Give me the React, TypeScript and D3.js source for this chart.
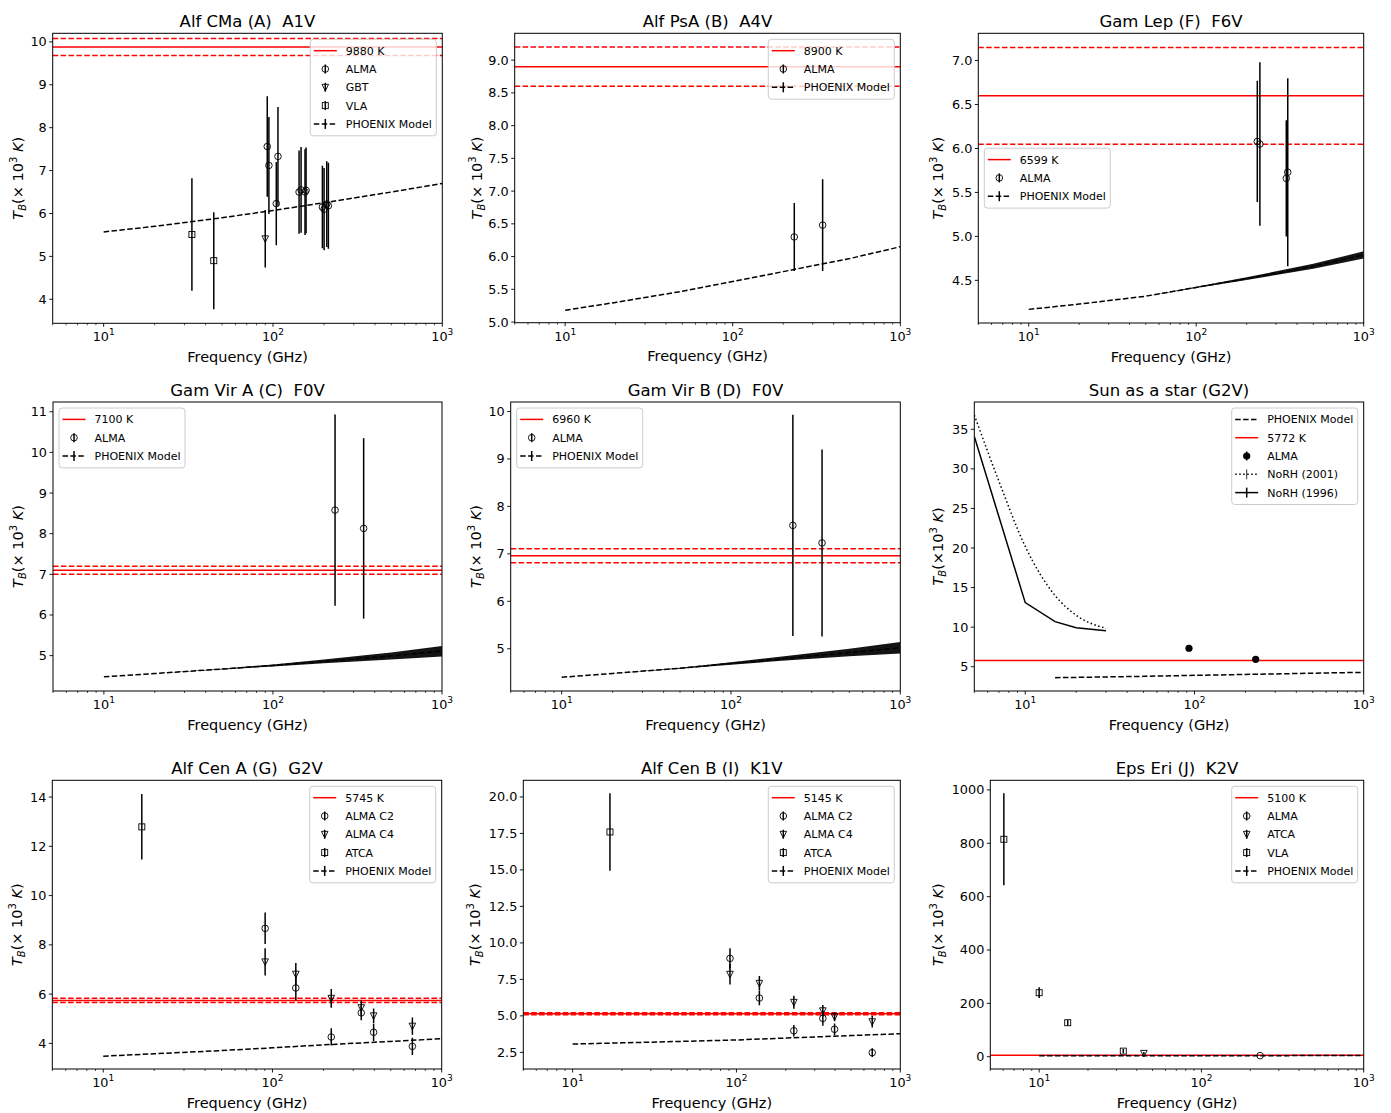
import React from "react";
import * as d3 from "d3";

const FONT = "'DejaVu Sans', sans-serif";

// ---------- shared data ----------
const FREQ_DOMAIN = [5, 1000];
const MODEL_FREQ = [10, 20, 50, 100, 200, 500, 1000];

// ---------- Alf CMa ----------
const alfCMaAlmaFreq = [92.5, 94.6, 104.6, 107, 142.6, 146.5, 154.6, 156.8, 195.8, 200.4, 207.8, 212.4];
const alfCMaAlmaTb = [7.56, 7.12, 6.23, 7.33, 6.5, 6.55, 6.5, 6.54, 6.15, 6.1, 6.22, 6.18];
const alfCMaAlmaErr = [1.17, 1.13, 0.97, 1.15, 0.97, 1.0, 1.0, 1.0, 0.96, 0.96, 1.0, 1.0];
const alfCMaGbtFreq = [90];
const alfCMaGbtTb = [5.41];
const alfCMaGbtErr = [0.67];
const alfCMaVlaFreq = [33.2, 44.7];
const alfCMaVlaTb = [5.51, 4.9];
const alfCMaVlaErr = [1.31, 1.13];
const alfCMaModelTb = [5.57, 5.7, 5.9, 6.07, 6.25, 6.5, 6.7];
const alfCMaYTicks = [4, 5, 6, 7, 8, 9, 10];

// ---------- Alf PsA ----------
const alfPsAAlmaFreq = [233, 344];
const alfPsAAlmaTb = [6.3, 6.48];
const alfPsAAlmaErr = [0.52, 0.7];
const alfPsAModelTb = [5.18, 5.3, 5.47, 5.62, 5.77, 5.97, 6.15];
const alfPsAYTicks = [5.0, 5.5, 6.0, 6.5, 7.0, 7.5, 8.0, 8.5, 9.0];

// ---------- Gam Lep ----------
const gamLepAlmaFreq = [231.6, 240, 345, 352];
const gamLepAlmaTb = [6.08, 6.05, 5.66, 5.73];
const gamLepAlmaErr = [0.69, 0.93, 0.66, 1.07];
const gamLepModelTb = [4.17, 4.23, 4.32, 4.42, 4.52, 4.66, 4.79];
const gamLepModelErr = [0, 0, 0, 0.008, 0.015, 0.028, 0.04];
const gamLepYTicks = [4.5, 5.0, 5.5, 6.0, 6.5, 7.0];

// ---------- Gam Vir A ----------
const gamVirAAlmaFreq = [233, 344];
const gamVirAAlmaTb = [8.58, 8.13];
const gamVirAAlmaErr = [2.35, 2.22];
const gamVirAModelTb = [4.48, 4.56, 4.67, 4.76, 4.86, 4.99, 5.11];
const gamVirAModelErr = [0, 0, 0.01, 0.025, 0.045, 0.085, 0.13];
const gamVirAYTicks = [5, 6, 7, 8, 9, 10, 11];

// ---------- Gam Vir B ----------
const gamVirBAlmaFreq = [232, 345];
const gamVirBAlmaTb = [7.6, 7.23];
const gamVirBAlmaErr = [2.33, 1.97];
const gamVirBModelTb = [4.4, 4.48, 4.59, 4.69, 4.79, 4.92, 5.02];
const gamVirBModelErr = [0, 0, 0.01, 0.025, 0.045, 0.08, 0.12];
const gamVirBYTicks = [5, 6, 7, 8, 9, 10];

// ---------- Sun ----------
const sunAlmaFreq = [92.8, 230];
const sunAlmaTb = [7.33, 5.93];
const sunAlmaErr = [0.3, 0.25];
const sunModelFreq = [15, 50, 100, 200, 500, 1000];
const sunModelTb = [3.61, 3.78, 3.91, 4.02, 4.18, 4.29];
const sunNoRH2001Freq = [5, 7, 10, 15, 20, 30];
const sunNoRH2001Tb = [36.8, 28.4, 20.2, 14.0, 11.5, 9.85];
const sunNoRH1996Freq = [5, 10, 15, 20, 30];
const sunNoRH1996Tb = [34.1, 13.1, 10.7, 9.93, 9.55];
const sunYTicks = [5, 10, 15, 20, 25, 30, 35];

// ---------- Alf Cen A ----------
const alfCenAC2Freq = [90.5, 137.4, 222.5, 334.7, 396, 671];
const alfCenAC2Tb = [8.67, 6.25, 4.26, 5.24, 4.45, 3.88];
const alfCenAC2Err = [0.64, 0.5, 0.35, 0.3, 0.35, 0.35];
const alfCenAC4Freq = [90.5, 137.4, 222.5, 334.7, 396, 671];
const alfCenAC4Tb = [7.31, 6.81, 5.83, 5.45, 5.12, 4.7];
const alfCenAC4Err = [0.55, 0.45, 0.38, 0.3, 0.3, 0.35];
const alfCenAAtcaFreq = [16.9];
const alfCenAAtcaTb = [12.79];
const alfCenAAtcaErr = [1.33];
const alfCenAModelTb = [3.48, 3.58, 3.71, 3.82, 3.94, 4.08, 4.19];
const alfCenAYTicks = [4, 6, 8, 10, 12, 14];

// ---------- Alf Cen B ----------
const alfCenBC2Freq = [91.3, 138, 224, 336.7, 397, 674];
const alfCenBC2Tb = [8.94, 6.22, 3.98, 4.83, 4.08, 2.48];
const alfCenBC2Err = [0.7, 0.5, 0.4, 0.5, 0.4, 0.3];
const alfCenBC4Freq = [91.3, 138, 224, 336.7, 397, 674];
const alfCenBC4Tb = [7.85, 7.23, 5.93, 5.35, 4.94, 4.6];
const alfCenBC4Err = [0.7, 0.5, 0.45, 0.4, 0.3, 0.4];
const alfCenBAtcaFreq = [16.9];
const alfCenBAtcaTb = [17.6];
const alfCenBAtcaErr = [2.65];
const alfCenBModelTb = [3.07, 3.15, 3.26, 3.35, 3.48, 3.65, 3.78];
const alfCenBYTicks = [2.5, 5.0, 7.5, 10.0, 12.5, 15.0, 17.5, 20.0];

// ---------- Eps Eri ----------
const epsEriAlmaFreq = [230];
const epsEriAlmaTb = [4];
const epsEriAlmaErr = [1];
const epsEriAtcaFreq = [44.2];
const epsEriAtcaTb = [12.7];
const epsEriAtcaErr = [5];
const epsEriVlaFreq = [6.06, 10, 15, 33];
const epsEriVlaTb = [815, 240, 127.5, 21];
const epsEriVlaErr = [172, 20, 10, 8];
const epsEriModelTb = [3.5, 3.6, 3.75, 3.85, 4.0, 4.2, 4.35];
const epsEriYTicks = [0, 200, 400, 600, 800, 1000];

// ---------- helpers ----------
type Kind = "circle" | "tri" | "square" | "filled";
type Pt = { f: number; v: number; e: number };
const zip = (f: number[], v: number[], e?: number[]): Pt[] =>
  f.map((x, i) => ({ f: x, v: v[i], e: e ? e[i] : 0 }));

type Series = { kind: Kind; pts: Pt[] };
type LegendEntry =
  | { type: "ref"; label: string }
  | { type: "err"; kind: Kind; label: string }
  | { type: "model"; label: string }
  | { type: "plainDash"; label: string }
  | { type: "dotBar"; label: string }
  | { type: "solidBar"; label: string };

type PanelCfg = {
  id: string;
  title: string;
  box: [number, number, number, number]; // x0,x1,y0,y1
  yDomain: [number, number];
  yTicks: number[];
  yFmt: string;
  labelX: number;
  compactLabel?: boolean;
  ref: { v: number; band: number };
  model: { pts: Pt[]; band: boolean };
  series: Series[];
  lines?: { pts: Pt[]; dash: string }[];
  legend: { pos: "ur" | "ul" | "cl"; entries: LegendEntry[] };
};

const modelEntry: LegendEntry = { type: "model", label: "PHOENIX Model" };

const panels: PanelCfg[] = [
  {
    id: "p1",
    title: "Alf CMa (A)  A1V",
    box: [52.7, 442.3, 33.3, 323.3],
    yDomain: [3.44, 10.2],
    yTicks: alfCMaYTicks,
    yFmt: "d",
    labelX: 18,
    ref: { v: 9.88, band: 0.2 },
    model: { pts: zip(MODEL_FREQ, alfCMaModelTb), band: false },
    series: [
      { kind: "circle", pts: zip(alfCMaAlmaFreq, alfCMaAlmaTb, alfCMaAlmaErr) },
      { kind: "tri", pts: zip(alfCMaGbtFreq, alfCMaGbtTb, alfCMaGbtErr) },
      { kind: "square", pts: zip(alfCMaVlaFreq, alfCMaVlaTb, alfCMaVlaErr) },
    ],
    legend: {
      pos: "ur",
      entries: [
        { type: "ref", label: "9880 K" },
        { type: "err", kind: "circle", label: "ALMA" },
        { type: "err", kind: "tri", label: "GBT" },
        { type: "err", kind: "square", label: "VLA" },
        modelEntry,
      ],
    },
  },
  {
    id: "p2",
    title: "Alf PsA (B)  A4V",
    box: [514.7, 900.3, 33.3, 322.7],
    yDomain: [4.99, 9.41],
    yTicks: alfPsAYTicks,
    yFmt: ".1f",
    labelX: 476.7,
    ref: { v: 8.9, band: 0.3 },
    model: { pts: zip(MODEL_FREQ, alfPsAModelTb), band: false },
    series: [{ kind: "circle", pts: zip(alfPsAAlmaFreq, alfPsAAlmaTb, alfPsAAlmaErr) }],
    legend: {
      pos: "ur",
      entries: [{ type: "ref", label: "8900 K" }, { type: "err", kind: "circle", label: "ALMA" }, modelEntry],
    },
  },
  {
    id: "p3",
    title: "Gam Lep (F)  F6V",
    box: [978.3, 1363.7, 33.3, 323],
    yDomain: [4.015, 7.31],
    yTicks: gamLepYTicks,
    yFmt: ".1f",
    labelX: 938.3,
    ref: { v: 6.599, band: 0.55 },
    model: { pts: zip(MODEL_FREQ, gamLepModelTb, gamLepModelErr), band: true },
    series: [{ kind: "circle", pts: zip(gamLepAlmaFreq, gamLepAlmaTb, gamLepAlmaErr) }],
    legend: {
      pos: "cl",
      entries: [{ type: "ref", label: "6599 K" }, { type: "err", kind: "circle", label: "ALMA" }, modelEntry],
    },
  },
  {
    id: "p4",
    title: "Gam Vir A (C)  F0V",
    box: [53, 442, 402, 691],
    yDomain: [4.13, 11.24],
    yTicks: gamVirAYTicks,
    yFmt: "d",
    labelX: 18.3,
    ref: { v: 7.1, band: 0.1 },
    model: { pts: zip(MODEL_FREQ, gamVirAModelTb, gamVirAModelErr), band: true },
    series: [{ kind: "circle", pts: zip(gamVirAAlmaFreq, gamVirAAlmaTb, gamVirAAlmaErr) }],
    legend: {
      pos: "ul",
      entries: [{ type: "ref", label: "7100 K" }, { type: "err", kind: "circle", label: "ALMA" }, modelEntry],
    },
  },
  {
    id: "p5",
    title: "Gam Vir B (D)  F0V",
    box: [510.7, 900.3, 402, 691],
    yDomain: [4.11, 10.2],
    yTicks: gamVirBYTicks,
    yFmt: "d",
    labelX: 476,
    ref: { v: 6.96, band: 0.15 },
    model: { pts: zip(MODEL_FREQ, gamVirBModelTb, gamVirBModelErr), band: true },
    series: [{ kind: "circle", pts: zip(gamVirBAlmaFreq, gamVirBAlmaTb, gamVirBAlmaErr) }],
    legend: {
      pos: "ul",
      entries: [{ type: "ref", label: "6960 K" }, { type: "err", kind: "circle", label: "ALMA" }, modelEntry],
    },
  },
  {
    id: "p6",
    title: "Sun as a star (G2V)",
    box: [974.3, 1363.7, 402, 691],
    yDomain: [1.93, 38.45],
    yTicks: sunYTicks,
    yFmt: "d",
    labelX: 938,
    compactLabel: true,
    ref: { v: 5.772, band: 0 },
    model: { pts: zip(sunModelFreq, sunModelTb), band: false },
    series: [{ kind: "filled", pts: zip(sunAlmaFreq, sunAlmaTb, sunAlmaErr) }],
    lines: [
      { pts: zip(sunNoRH2001Freq, sunNoRH2001Tb), dash: "1.5,2.5" },
      { pts: zip(sunNoRH1996Freq, sunNoRH1996Tb), dash: "" },
    ],
    legend: {
      pos: "ur",
      entries: [
        { type: "plainDash", label: "PHOENIX Model" },
        { type: "ref", label: "5772 K" },
        { type: "err", kind: "filled", label: "ALMA" },
        { type: "dotBar", label: "NoRH (2001)" },
        { type: "solidBar", label: "NoRH (1996)" },
      ],
    },
  },
  {
    id: "p7",
    title: "Alf Cen A (G)  G2V",
    box: [52.3, 441.7, 780.3, 1069],
    yDomain: [2.96, 14.68],
    yTicks: alfCenAYTicks,
    yFmt: "d",
    labelX: 16.7,
    ref: { v: 5.745, band: 0.09 },
    model: { pts: zip(MODEL_FREQ, alfCenAModelTb), band: false },
    series: [
      { kind: "circle", pts: zip(alfCenAC2Freq, alfCenAC2Tb, alfCenAC2Err) },
      { kind: "tri", pts: zip(alfCenAC4Freq, alfCenAC4Tb, alfCenAC4Err) },
      { kind: "square", pts: zip(alfCenAAtcaFreq, alfCenAAtcaTb, alfCenAAtcaErr) },
    ],
    legend: {
      pos: "ur",
      entries: [
        { type: "ref", label: "5745 K" },
        { type: "err", kind: "circle", label: "ALMA C2" },
        { type: "err", kind: "tri", label: "ALMA C4" },
        { type: "err", kind: "square", label: "ATCA" },
        modelEntry,
      ],
    },
  },
  {
    id: "p8",
    title: "Alf Cen B (I)  K1V",
    box: [523.3, 900.3, 780.3, 1069],
    yDomain: [1.36, 21.14],
    yTicks: alfCenBYTicks,
    yFmt: ".1f",
    labelX: 475,
    ref: { v: 5.145, band: 0.07 },
    model: { pts: zip(MODEL_FREQ, alfCenBModelTb), band: false },
    series: [
      { kind: "circle", pts: zip(alfCenBC2Freq, alfCenBC2Tb, alfCenBC2Err) },
      { kind: "tri", pts: zip(alfCenBC4Freq, alfCenBC4Tb, alfCenBC4Err) },
      { kind: "square", pts: zip(alfCenBAtcaFreq, alfCenBAtcaTb, alfCenBAtcaErr) },
    ],
    legend: {
      pos: "ur",
      entries: [
        { type: "ref", label: "5145 K" },
        { type: "err", kind: "circle", label: "ALMA C2" },
        { type: "err", kind: "tri", label: "ALMA C4" },
        { type: "err", kind: "square", label: "ATCA" },
        modelEntry,
      ],
    },
  },
  {
    id: "p9",
    title: "Eps Eri (J)  K2V",
    box: [990.3, 1363.7, 780.3, 1069],
    yDomain: [-46, 1036],
    yTicks: epsEriYTicks,
    yFmt: "d",
    labelX: 938.3,
    ref: { v: 5.1, band: 0 },
    model: { pts: zip(MODEL_FREQ, epsEriModelTb), band: false },
    series: [
      { kind: "circle", pts: zip(epsEriAlmaFreq, epsEriAlmaTb, epsEriAlmaErr) },
      { kind: "tri", pts: zip(epsEriAtcaFreq, epsEriAtcaTb, epsEriAtcaErr) },
      { kind: "square", pts: zip(epsEriVlaFreq, epsEriVlaTb, epsEriVlaErr) },
    ],
    legend: {
      pos: "ur",
      entries: [
        { type: "ref", label: "5100 K" },
        { type: "err", kind: "circle", label: "ALMA" },
        { type: "err", kind: "tri", label: "ATCA" },
        { type: "err", kind: "square", label: "VLA" },
        modelEntry,
      ],
    },
  },
];

const DASH = "5.5,2.4";
const MR = 3.3;

function Marker({ kind, x, y }: { kind: Kind; x: number; y: number }) {
  if (kind === "circle")
    return <circle cx={x} cy={y} r={MR} fill="none" stroke="#000" strokeWidth={0.9} />;
  if (kind === "filled") return <circle cx={x} cy={y} r={3.6} fill="#000" />;
  if (kind === "square")
    return <rect x={x - 3} y={y - 3} width={6} height={6} fill="none" stroke="#000" strokeWidth={0.9} />;
  const r = MR;
  return (
    <path
      d={`M${x - r},${y - r * 0.9}L${x + r},${y - r * 0.9}L${x},${y + r * 1.1}Z`}
      fill="none"
      stroke="#000"
      strokeWidth={0.9}
    />
  );
}

function Panel({ cfg }: { cfg: PanelCfg }) {
  const [x0, x1, y0, y1] = cfg.box;
  const x = d3.scaleLog().domain(FREQ_DOMAIN).range([x0, x1]);
  const y = d3.scaleLinear().domain(cfg.yDomain).range([y1, y0]);
  const fmt = d3.format(cfg.yFmt);
  const clipId = `clip-${cfg.id}`;
  const xTicks = x.ticks();
  const isMajor = (t: number) => Math.abs(Math.log10(t) - Math.round(Math.log10(t))) < 1e-9;

  const line = d3
    .line<Pt>()
    .x((d) => x(d.f))
    .y((d) => y(d.v));
  const smoothLine = d3
    .line<Pt>()
    .x((d) => x(d.f))
    .y((d) => y(d.v))
    .curve(d3.curveMonotoneX);
  const area = d3
    .area<Pt>()
    .x((d) => x(d.f))
    .y0((d) => y(d.v - d.e))
    .y1((d) => y(d.v + d.e));

  // legend
  const n = cfg.legend.entries.length;
  const lw = 126;
  const rowH = 18.3;
  const lh = n * rowH + 5;
  let lx = x1 - 6 - lw;
  let ly = y0 + 6;
  if (cfg.legend.pos === "ul") lx = x0 + 6;
  if (cfg.legend.pos === "cl") {
    lx = x0 + 6;
    ly = (y0 + y1) / 2 - lh / 2;
  }

  const cy = (y0 + y1) / 2;
  const cx = (x0 + x1) / 2;

  return (
    <g>
      <defs>
        <clipPath id={clipId}>
          <rect x={x0} y={y0} width={x1 - x0} height={y1 - y0} />
        </clipPath>
      </defs>
      <g clipPath={`url(#${clipId})`}>
        {/* reference lines */}
        <line x1={x0} x2={x1} y1={y(cfg.ref.v)} y2={y(cfg.ref.v)} stroke="#ff0000" strokeWidth={1.5} />
        {cfg.ref.band > 0 &&
          [cfg.ref.v + cfg.ref.band, cfg.ref.v - cfg.ref.band].map((v, i) => (
            <line
              key={i}
              x1={x0}
              x2={x1}
              y1={y(v)}
              y2={y(v)}
              stroke="#ff0000"
              strokeWidth={1.5}
              strokeDasharray={DASH}
            />
          ))}
        {/* model */}
        {cfg.model.band && <path d={area(cfg.model.pts) || ""} fill="#000" fillOpacity={0.92} />}
        <path d={line(cfg.model.pts) || ""} fill="none" stroke="#000" strokeWidth={1.5} strokeDasharray={DASH} />
        {/* extra lines */}
        {cfg.lines &&
          cfg.lines.map((l, i) => (
            <path
              key={i}
              d={(l.dash ? smoothLine(l.pts) : line(l.pts)) || ""}
              fill="none"
              stroke="#000"
              strokeWidth={1.5}
              strokeDasharray={l.dash || undefined}
            />
          ))}
        {/* series */}
        {cfg.series.map((s, si) =>
          s.pts.map((p, i) => (
            <g key={`${si}-${i}`}>
              <line x1={x(p.f)} x2={x(p.f)} y1={y(p.v - p.e)} y2={y(p.v + p.e)} stroke="#000" strokeWidth={1.5} />
              <Marker kind={s.kind} x={x(p.f)} y={y(p.v)} />
            </g>
          ))
        )}
      </g>
      {/* frame */}
      <rect x={x0} y={y0} width={x1 - x0} height={y1 - y0} fill="none" stroke="#000" strokeWidth={1} />
      {/* x ticks */}
      {xTicks.map((t, i) => (
        <line
          key={i}
          x1={x(t)}
          x2={x(t)}
          y1={y1}
          y2={y1 + (isMajor(t) ? 3.5 : 2)}
          stroke="#000"
          strokeWidth={isMajor(t) ? 0.9 : 0.7}
        />
      ))}
      {xTicks.filter(isMajor).filter((t) => t >= 10).map((t, i) => (
        <text key={i} x={x(t)} y={y1 + 18} textAnchor="middle" fontSize={12.8} fontFamily={FONT}>
          10
          <tspan fontSize={9} dy={-6}>
            {Math.round(Math.log10(t))}
          </tspan>
        </text>
      ))}
      <text x={cx} y={y1 + 38.5} textAnchor="middle" fontSize={14.5} fontFamily={FONT}>
        Frequency (GHz)
      </text>
      {/* y ticks */}
      {cfg.yTicks.map((t, i) => (
        <g key={i}>
          <line x1={x0 - 3.5} x2={x0} y1={y(t)} y2={y(t)} stroke="#000" strokeWidth={0.9} />
          <text x={x0 - 6} y={y(t) + 4.5} textAnchor="end" fontSize={12.8} fontFamily={FONT}>
            {fmt(t)}
          </text>
        </g>
      ))}
      {/* y label */}
      <text
        transform={`translate(${cfg.labelX},${cy}) rotate(-90)`}
        y={5}
        textAnchor="middle"
        fontSize={14.5}
        fontFamily={FONT}
        style={{ whiteSpace: "pre" }}
      >
        <tspan fontStyle="italic">T</tspan>
        <tspan fontSize={10} dy={3} fontStyle="italic">
          B
        </tspan>
        <tspan dy={-3}>{cfg.compactLabel ? "(×10" : "(× 10"}</tspan>
        <tspan fontSize={10} dy={-6}>
          3
        </tspan>
        <tspan dy={6} fontStyle="italic">
          {" K"}
        </tspan>
        <tspan>)</tspan>
      </text>
      {/* title */}
      <text x={cx} y={y0 - 6} textAnchor="middle" fontSize={16.5} fontFamily={FONT} style={{ whiteSpace: "pre" }}>
        {cfg.title}
      </text>
      {/* legend */}
      <g>
        <rect
          x={lx}
          y={ly}
          width={lw}
          height={lh}
          rx={3}
          fill="#fff"
          fillOpacity={0.8}
          stroke="#cccccc"
          strokeWidth={1}
        />
        {cfg.legend.entries.map((e, i) => {
          const ey = ly + 11.4 + i * rowH;
          const hx0 = lx + 3.5;
          const hx1 = lx + 26.5;
          const hc = lx + 15;
          let handle: React.ReactNode = null;
          if (e.type === "ref")
            handle = <line x1={hx0} x2={hx1} y1={ey} y2={ey} stroke="#ff0000" strokeWidth={1.5} />;
          else if (e.type === "err")
            handle = (
              <g>
                <line x1={hc} x2={hc} y1={ey - 4.5} y2={ey + 4.5} stroke="#000" strokeWidth={1.5} />
                <Marker kind={e.kind} x={hc} y={ey} />
              </g>
            );
          else if (e.type === "model" || e.type === "plainDash")
            handle = (
              <g>
                <line x1={hx0} x2={hx1} y1={ey} y2={ey} stroke="#000" strokeWidth={1.5} strokeDasharray={DASH} />
                {e.type === "model" && (
                  <line x1={hc} x2={hc} y1={ey - 5} y2={ey + 5} stroke="#000" strokeWidth={1.5} />
                )}
              </g>
            );
          else
            handle = (
              <g>
                <line
                  x1={hx0}
                  x2={hx1}
                  y1={ey}
                  y2={ey}
                  stroke="#000"
                  strokeWidth={1.5}
                  strokeDasharray={e.type === "dotBar" ? "1.5,2.5" : undefined}
                />
                <line
                  x1={hc}
                  x2={hc}
                  y1={ey - 5}
                  y2={ey + 5}
                  stroke="#000"
                  strokeWidth={e.type === "dotBar" ? 0.8 : 1.5}
                />
              </g>
            );
          return (
            <g key={i}>
              {handle}
              <text x={lx + 35.5} y={ey + 4} fontSize={11} fontFamily={FONT}>
                {e.label}
              </text>
            </g>
          );
        })}
      </g>
    </g>
  );
}

export default function App() {
  return (
    <svg
      width={1391}
      height={1113}
      style={{ position: "absolute", left: 0, top: 0, background: "#fff" }}
      fontFamily={FONT}
    >
      <rect x={0} y={0} width={1391} height={1113} fill="#fff" />
      {panels.map((p) => (
        <Panel key={p.id} cfg={p} />
      ))}
    </svg>
  );
}
